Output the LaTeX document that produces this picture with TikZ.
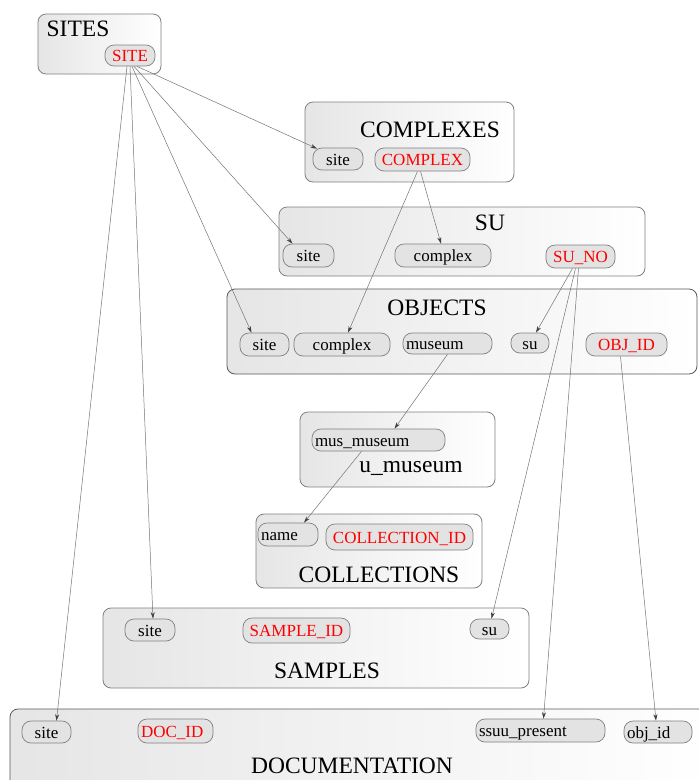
\documentclass[tikz,border=0pt]{standalone}
\usepackage{fontspec}
\setmainfont{Liberation Serif}
\usetikzlibrary{arrows.meta}
\tikzset{
  box/.style={draw=black!50, line width=0.8pt, rounded corners=8pt, left color=black!10, right color=white, shading angle=90, inner sep=0pt},
  darkbox/.style={box, draw=black!65},
  ttl/.style={anchor=base, inner sep=0pt, font=\fontsize{23.5}{25}\selectfont},
  pill/.style={draw=black!50, line width=0.7pt, fill=black!11, rounded corners=9pt, inner xsep=3pt, inner ysep=0pt, text height=12.5pt, text depth=0.5pt, font=\fontsize{17}{19}\selectfont},
  key/.style={text=red},
  edge/.style={draw=black!55, line width=0.5pt, -{Stealth[length=6.5pt,width=4pt,color=black!75]}}
}
% pill: \pillnode{name}{x1}{x2}{y1}{y2}{align}{style}{text}
\newcommand{\pillnode}[8]{%
  \pgfmathsetmacro{\pcx}{(#2+#3)/2}%
  \pgfmathsetmacro{\pcy}{(#4+#5)/2}%
  \pgfmathsetmacro{\pw}{#3-#2-6}%
  \pgfmathsetmacro{\ph}{#5-#4}%
  \node[pill, #7, text width=\pw pt, align=#6, minimum height=\ph pt] (#1) at (\pcx,\pcy) {#8};%
}
\begin{document}
\begin{tikzpicture}[x=1pt,y=-1pt]
\useasboundingbox (0,0) rectangle (699,780);

% boxes
\node[box, minimum width=123pt, minimum height=60pt] (SITES) at (99.5,44) {};
\node[box, minimum width=209pt, minimum height=80pt] (COMPLEXES) at (409.5,142) {};
\node[box, minimum width=366pt, minimum height=69pt] (SU) at (462,241.5) {};
\node[darkbox, minimum width=470pt, minimum height=85pt] (OBJECTS) at (462,331.5) {};
\node[box, minimum width=195pt, minimum height=75pt] (UMUS) at (397.5,449.5) {};
\node[box, minimum width=226pt, minimum height=74pt] (COLL) at (369,551) {};
\node[box, minimum width=426pt, minimum height=80pt] (SAMP) at (316,648) {};
\node[darkbox, minimum width=702pt, minimum height=86pt] (DOCS) at (361,752) {};

% titles
\node[ttl] (tSITES) at (78,36) {SITES};
\node[ttl] (tCOMPLEXES) at (430,137) {COMPLEXES};
\node[ttl] (tSU) at (490,230) {SU};
\node[ttl] (tOBJ) at (437,315) {OBJECTS};
\node[ttl] (tUMUS) at (411,472) {u\_museum};
\node[ttl] (tCOLL) at (379,582) {COLLECTIONS};
\node[ttl] (tSAMP) at (327,678) {SAMPLES};
\node[ttl] (tDOCS) at (352,773) {DOCUMENTATION};

% pills
\pillnode{SITE}{105}{155}{45}{66}{center}{key}{SITE}
\pillnode{cs}{313}{363}{148}{170}{center}{}{site}
\pillnode{COMPLEX}{375}{470}{148}{171}{center}{key}{COMPLEX}
\pillnode{ss}{283}{334}{244}{267}{center}{}{site}
\pillnode{sc}{395}{491}{244}{267}{center}{}{complex}
\pillnode{SUNO}{546}{615}{245}{268}{center}{key}{SU\_NO}
\pillnode{os}{240}{289}{333}{356}{center}{}{site}
\pillnode{oc}{294}{390}{333}{356}{center}{}{complex}
\pillnode{om}{403}{492}{333}{354}{left}{}{museum}
\pillnode{osu}{511}{549}{333}{353}{center}{}{su}
\pillnode{OBJID}{586}{667}{333}{356}{center}{key}{OBJ\_ID}
\pillnode{mus}{312}{445}{429}{451}{left}{}{mus\_museum}
\pillnode{name}{258}{318}{523}{546}{left}{}{name}
\pillnode{COLLID}{326}{473}{524}{550}{center}{key}{COLLECTION\_ID}
\pillnode{sas}{125}{175}{619}{641}{center}{}{site}
\pillnode{SAMPID}{243}{350}{618}{643}{center}{key}{SAMPLE\_ID}
\pillnode{sasu}{470}{509}{619}{639}{center}{}{su}
\pillnode{ds}{22}{71}{721}{743}{center}{}{site}
\pillnode{DOCID}{138}{213}{719}{743}{left}{key}{DOC\_ID}
\pillnode{ssuu}{476}{605}{719}{742}{left}{}{ssuu\_present}
\pillnode{objid}{624}{692}{721}{743}{left}{}{obj\_id}

% edges
\draw[edge] ([xshift=7pt]SITE.south) -- ([xshift=-21pt,yshift=-1pt]cs.north);
\draw[edge] ([xshift=4pt]SITE.south) -- ([xshift=-16pt]ss.north);
\draw[edge] ([xshift=2pt]SITE.south) -- ([xshift=-13pt]os.north);
\draw[edge] ([xshift=0pt]SITE.south) -- ([xshift=3pt]sas.north);
\draw[edge] ([xshift=-3pt]SITE.south) -- ([xshift=10pt]ds.north);
\draw[edge] ([xshift=-2pt]COMPLEX.south) -- ([xshift=-2pt]sc.north);
\draw[edge] ([xshift=-5pt]COMPLEX.south) -- ([xshift=6pt]oc.north);
\draw[edge] ([xshift=-8pt]SUNO.south) -- ([xshift=6pt]osu.north);
\draw[edge] ([xshift=-5pt]SUNO.south) -- ([xshift=2pt]sasu.north);
\draw[edge] ([xshift=-2pt]SUNO.south) -- ([xshift=3pt]ssuu.north);
\draw[edge] ([xshift=-6pt]OBJID.south) -- ([xshift=-2pt]objid.north);
\draw[edge] ([xshift=0pt]om.south) -- ([xshift=16pt]mus.north);
\draw[edge] ([xshift=-17pt]mus.south) -- ([xshift=16pt]name.north);
\end{tikzpicture}
\end{document}
